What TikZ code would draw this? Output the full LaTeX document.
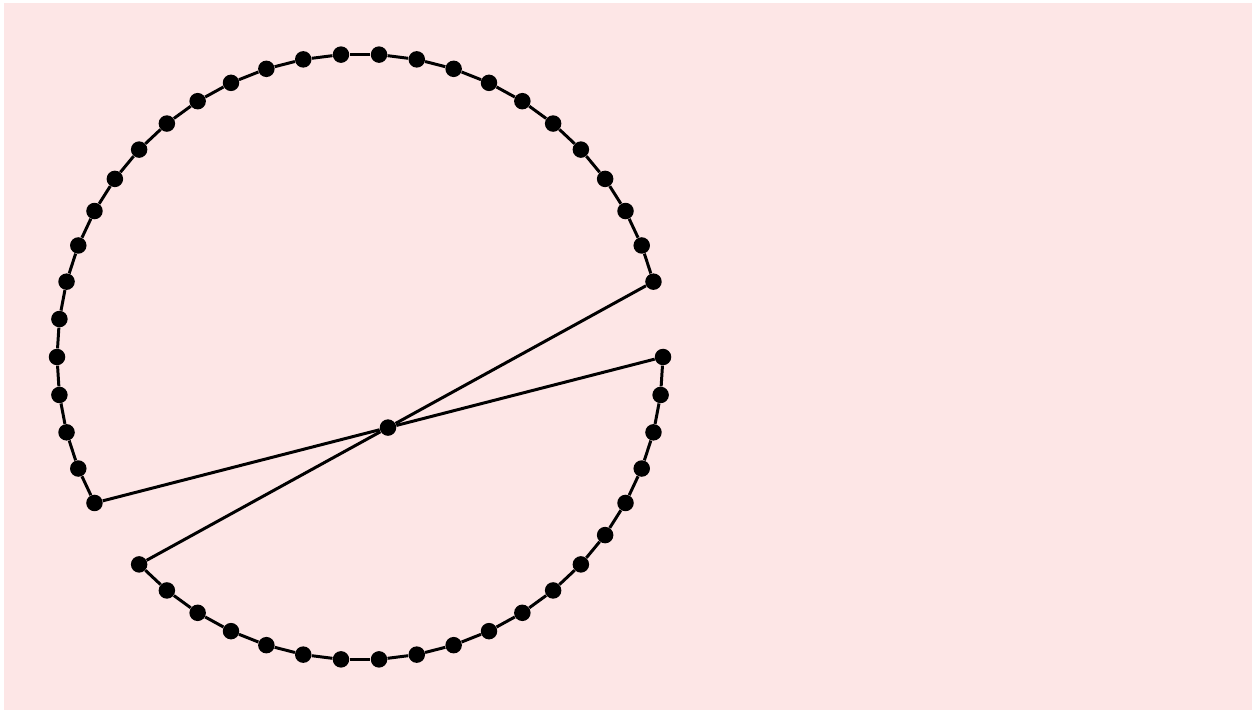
\documentclass[tikz,border=0pt]{standalone}
\usetikzlibrary{calc}
\definecolor{bgpink}{RGB}{253,230,230}

\begin{document}
\begin{tikzpicture}[dot/.style={circle,fill=black,inner sep=0pt,minimum size=0.33cm},link/.style={line width=1.7pt}]
\useasboundingbox (0,0) rectangle (25.04,14.2);
\fill[bgpink] (0.08,0) rectangle (25.04,14.14);
% ring of dots, two gaps
\foreach \k in {0,2,3,...,29,31,32,...,49}
 \node[dot](p\k) at ($(7.2,7.06)+(\k*7.2:6.06)$) {};
\coordinate (c) at (intersection of p2--p31 and p0--p29);
\node[dot](m) at (c) {};
\foreach \k [evaluate=\k as \n using int(\k+1)] in {2,...,28,31,32,...,48}
 \draw[link] (p\k)--(p\n);
\draw[link] (p49)--(p0);
\draw[link] (p29)--(m)--(p0);
\draw[link] (p31)--(m)--(p2);
\end{tikzpicture}
\end{document}
